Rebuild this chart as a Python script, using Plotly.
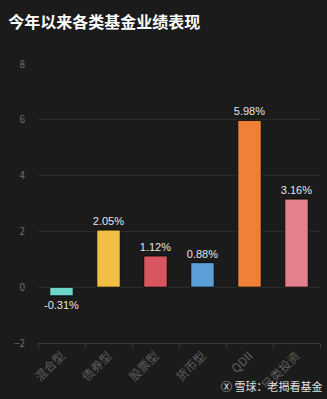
import plotly.graph_objects as go

categories = ["混合型", "债券型", "股票型", "货币型", "QDII", "另类投资"]
values = [-0.31, 2.05, 1.12, 0.88, 5.98, 3.16]
colors = ["#6dd6c9", "#f2bf45", "#d85660", "#5b9fd9", "#ee8137", "#e2808b"]
yticks = [-2, 0, 2, 4, 6, 8]

FONT = "Noto Sans CJK SC"
BG = "#1b1b1b"

fig = go.Figure()
fig.add_trace(go.Bar(
    x=categories, y=values,
    marker=dict(color=colors, line=dict(color="#0a0a0a", width=1)),
    text=[f"{v:.2f}%" for v in values],
    textposition="outside",
    constraintext="none",
    textfont=dict(color="#e6e6e6", size=11, family="Liberation Sans"),
    cliponaxis=False,
    width=0.5,
))

fig.update_layout(
    width=327, height=399,
    paper_bgcolor=BG, plot_bgcolor=BG,
    margin=dict(l=38, r=7, t=64, b=56),
    showlegend=False,
    font=dict(family=FONT, color="#6e6e6e", size=10),
    title=dict(text="<b>今年以来各类基金业绩表现</b>", x=0.025, xanchor="left",
               y=0.945, yanchor="middle",
               font=dict(size=16, color="#ffffff", family=FONT)),
    xaxis=dict(
        tickangle=-45, tickfont=dict(size=12, color="#5e5e5e", family=FONT),
        showline=True, linecolor="#3a3a3a", linewidth=1,
        ticks="outside", ticklen=4, tickcolor="#3a3a3a",
        tickson="boundaries", showgrid=False, range=[-0.5, 5.5],
    ),
    yaxis=dict(
        range=[-2, 8], tickvals=yticks, showgrid=True, gridcolor="#2c2c2c",
        gridwidth=1, zeroline=True, zerolinecolor="#2c2c2c", zerolinewidth=1,
        tickfont=dict(size=10, color="#6e6e6e", family=FONT), ticks="",
        ticklabelstandoff=12,
    ),
    bargap=0.5,
)

fig.add_annotation(
    text="Ⓧ 雪球：老揭看基金", x=1.015, xref="paper", xanchor="right",
    y=-0.155, yref="paper", yanchor="middle", showarrow=False,
    font=dict(size=11, color="#e0e0e0", family=FONT),
)

fig.write_html("out.html")
